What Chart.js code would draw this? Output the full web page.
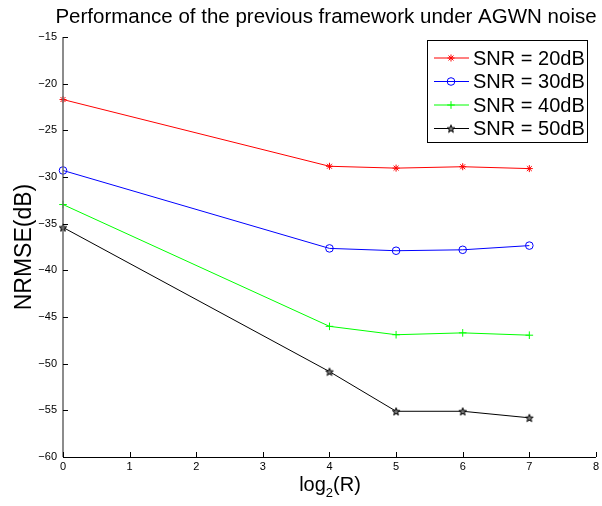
<!DOCTYPE html>
<html>
<head>
<meta charset="utf-8">
<script src="https://cdn.jsdelivr.net/npm/chart.js@4/dist/chart.umd.min.js"></script>
<style>
html,body{margin:0;padding:0;background:#fff;}
#wrap{width:602px;height:506px;}
</style>
</head>
<body>
<div id="wrap"><canvas id="c" width="602" height="506"></canvas></div>
<script>
// ---- data ----
const xValues = [0, 4, 5, 6, 7];
const snr20 = [-21.7, -28.85, -29.05, -28.9, -29.1];
const snr30 = [-29.3, -37.65, -37.9, -37.8, -37.35];
const snr40 = [-32.95, -46.0, -46.9, -46.7, -46.95];
const snr50 = [-35.4, -50.85, -55.1, -55.1, -55.8];
const seriesLabels = ['SNR = 20dB', 'SNR = 30dB', 'SNR = 40dB', 'SNR = 50dB'];
const xTicks = [0, 1, 2, 3, 4, 5, 6, 7, 8];
const yTicks = [-15, -20, -25, -30, -35, -40, -45, -50, -55, -60];
const titleText = 'Performance of the previous framework under AGWN noise';
const yTitle = 'NRMSE(dB)';

// pentagram marker
function makePentagram(size) {
  const c = document.createElement('canvas');
  c.width = size; c.height = size;
  const g = c.getContext('2d');
  const cx = size / 2, cy = size / 2 + 0.5, R = size / 2 - 1, r = R * 0.42;
  g.beginPath();
  for (let i = 0; i < 10; i++) {
    const a = -Math.PI / 2 + i * Math.PI / 5;
    const rr = i % 2 === 0 ? R : r;
    const px = cx + rr * Math.cos(a), py = cy + rr * Math.sin(a);
    if (i === 0) g.moveTo(px, py); else g.lineTo(px, py);
  }
  g.closePath();
  g.fillStyle = '#777';
  g.fill();
  g.strokeStyle = '#000';
  g.lineWidth = 1;
  g.stroke();
  return c;
}
const pent = makePentagram(10);

function pts(arr) { return xValues.map((x, i) => ({x: x, y: arr[i]})); }

const styles = [
  {color: '#ff0000', pointStyle: 'star', radius: 3.5},
  {color: '#0000ff', pointStyle: 'circle', radius: 3.8},
  {color: '#00ff00', pointStyle: 'cross', radius: 3.8},
  {color: '#000000', pointStyle: pent, radius: 5}
];
const allSeries = [snr20, snr30, snr40, snr50];

const datasets = allSeries.map((s, i) => ({
  label: seriesLabels[i],
  data: pts(s),
  borderColor: styles[i].color,
  backgroundColor: 'rgba(0,0,0,0)',
  borderWidth: 1,
  pointStyle: styles[i].pointStyle,
  pointRadius: styles[i].radius,
  pointBorderColor: styles[i].color,
  pointBorderWidth: 1,
  pointBackgroundColor: 'rgba(0,0,0,0)',
  tension: 0,
  clip: false
}));

const FONT = 'Liberation Sans, Arial, Helvetica, sans-serif';

const deco = {
  id: 'deco',
  afterDraw(chart) {
    const ctx = chart.ctx;
    const xs = chart.scales.x, ys = chart.scales.y;
    const a = chart.chartArea;
    ctx.save();
    // axis lines
    ctx.strokeStyle = '#000';
    ctx.lineWidth = 1;
    ctx.beginPath();
    ctx.moveTo(a.left, a.bottom + 0.5);
    ctx.lineTo(a.right, a.bottom + 0.5);
    ctx.stroke();
    ctx.strokeStyle = '#666';
    ctx.lineWidth = 1.5;
    ctx.beginPath();
    ctx.moveTo(a.left, a.top);
    ctx.lineTo(a.left, a.bottom);
    ctx.stroke();
    // inward ticks
    ctx.strokeStyle = '#000';
    ctx.lineWidth = 1;
    xTicks.forEach(v => {
      const px = Math.round(xs.getPixelForValue(v)) + 0.5;
      ctx.beginPath();
      ctx.moveTo(px, a.bottom);
      ctx.lineTo(px, a.bottom - 5);
      ctx.stroke();
    });
    yTicks.forEach(v => {
      const py = Math.round(ys.getPixelForValue(v)) + 0.5;
      ctx.beginPath();
      ctx.moveTo(a.left, py);
      ctx.lineTo(a.left + 5, py);
      ctx.stroke();
    });
    // title
    ctx.fillStyle = '#000';
    ctx.font = '20.5px ' + FONT;
    ctx.textAlign = 'center';
    ctx.textBaseline = 'middle';
    ctx.fillText(titleText, 326, 17);
    // y title
    ctx.save();
    ctx.translate(25, 247);
    ctx.rotate(-Math.PI / 2);
    ctx.font = '23px ' + FONT;
    ctx.fillText(yTitle, 0, 0);
    ctx.restore();
    // x title log_2(R)
    ctx.font = '20px ' + FONT;
    ctx.textAlign = 'left';
    ctx.textBaseline = 'alphabetic';
    const w1 = ctx.measureText('log').width;
    const w3 = ctx.measureText('(R)').width;
    ctx.font = '13px ' + FONT;
    const w2 = ctx.measureText('2').width;
    const total = w1 + w2 + w3;
    let sx = 330 - total / 2;
    const base = 491;
    ctx.font = '20px ' + FONT;
    ctx.fillText('log', sx, base);
    ctx.font = '13px ' + FONT;
    ctx.fillText('2', sx + w1, base + 6);
    ctx.font = '20px ' + FONT;
    ctx.fillText('(R)', sx + w1 + w2, base);
    // legend
    const lx = 427, ly = 40, lw = 160, lh = 102;
    ctx.fillStyle = '#fff';
    ctx.fillRect(lx, ly, lw, lh);
    ctx.strokeStyle = '#000';
    ctx.lineWidth = 1;
    ctx.strokeRect(lx + 0.5, ly + 0.5, lw, lh);
    chart.data.datasets.forEach((ds, i) => {
      const ry = 58 + i * 23.5;
      ctx.strokeStyle = ds.borderColor;
      ctx.lineWidth = 1;
      ctx.beginPath();
      ctx.moveTo(434, ry);
      ctx.lineTo(469, ry);
      ctx.stroke();
      ctx.fillStyle = 'rgba(0,0,0,0)';
      Chart.helpers.drawPoint(ctx, {
        pointStyle: ds.pointStyle,
        radius: ds.pointRadius,
        borderWidth: 1,
        rotation: 0
      }, 451, ry);
      ctx.fillStyle = '#000';
      ctx.font = '20px ' + FONT;
      ctx.textAlign = 'left';
      ctx.textBaseline = 'middle';
      ctx.fillText(ds.label, 473, ry + 1);
    });
    ctx.restore();
  }
};

new Chart(document.getElementById('c'), {
  type: 'line',
  data: {datasets: datasets},
  options: {
    responsive: false,
    animation: false,
    layout: {padding: {top: 37, right: 5, left: 0, bottom: 0}},
    plugins: {legend: {display: false}, title: {display: false}, tooltip: {enabled: false}},
    scales: {
      x: {
        type: 'linear', min: 0, max: 8,
        afterFit: s => { s.height = 49; },
        afterBuildTicks: s => { s.ticks = xTicks.map(v => ({value: v})); },
        grid: {display: false, drawTicks: false, tickLength: 0},
        border: {display: false},
        ticks: {
          color: '#000', font: {size: 11, family: FONT}, padding: 3,
          maxRotation: 0, autoSkip: false,
          callback: v => String(v)
        }
      },
      y: {
        type: 'linear', min: -60, max: -15,
        afterFit: s => { s.width = 63; },
        afterBuildTicks: s => { s.ticks = yTicks.slice().reverse().map(v => ({value: v})); },
        grid: {display: false, drawTicks: false, tickLength: 0},
        border: {display: false},
        ticks: {
          color: '#000', font: {size: 11, family: FONT}, padding: 6,
          autoSkip: false,
          callback: v => (v < 0 ? '\u2212' + Math.abs(v) : String(v))
        }
      }
    }
  },
  plugins: [deco]
});
</script>
</body>
</html>
